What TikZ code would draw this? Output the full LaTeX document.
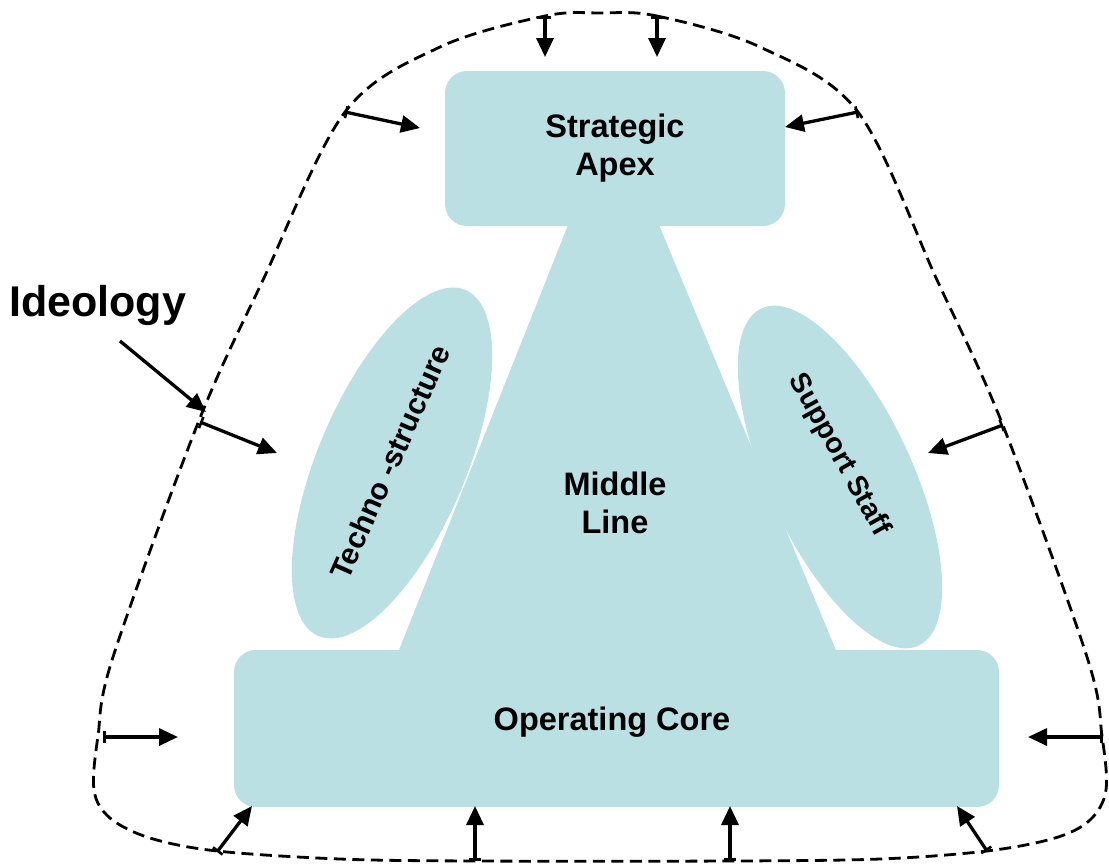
\documentclass[tikz,border=0pt]{standalone}
\usepackage{fontspec}
\setmainfont{Liberation Sans}
\usetikzlibrary{arrows.meta,shapes.geometric}
\definecolor{partfill}{RGB}{187,224,227}

\begin{document}
\begin{tikzpicture}[x=1pt,y=-1pt,
  partshape/.style={fill=partfill, draw=none},
  box/.style={partshape, rounded corners=22pt, inner sep=0pt},
  lbl/.style={font=\bfseries\fontsize{32.5}{38}\selectfont, align=center, text=black},
  rotlbl/.style={font=\bfseries\fontsize{30}{34}\selectfont, text=black},
  blob/.style={partshape, ellipse, inner sep=0pt},
  push/.style={line width=3.3pt, {Bar[width=12pt,line width=2.6pt]}-{Triangle[length=19pt,width=17pt]}},
  pointer/.style={line width=3.3pt, -{Triangle[length=19pt,width=17pt]}},
  boundary/.style={line width=2.8pt, dash pattern=on 12pt off 6.5pt}
]
\useasboundingbox (0,0) rectangle (1109,863);

% middle line: the trapezoid joining apex and core
\path[partshape] (570,220) -- (657,220) -- (838,655) -- (397,655) -- cycle;

% techno-structure and support staff
\node[blob, minimum width=376pt, minimum height=148pt, rotate=67] (ts) at (392,463) {};
\node[blob, minimum width=372pt, minimum height=144pt, rotate=-65] (ss) at (840,477) {};
\node[rotlbl, rotate=66] (tsl) at (390,462) {Techno -structure};
\node[rotlbl, font=\bfseries\fontsize{28.5}{34}\selectfont, rotate=-61] (ssl) at (839,455) {Support Staff};

% strategic apex and operating core
\node[box, minimum width=340pt, minimum height=155pt, lbl] (apex) at (615,148.5) {Strategic\\Apex};
\node[box, minimum width=765pt, minimum height=157pt] (core) at (616.5,728.5) {};
\node[lbl] (corel) at (612,722) {Operating Core};
\node[lbl] (mid) at (615,503) {Middle\\Line};

% ideology boundary
\draw[boundary] plot[smooth cycle, tension=0.55] coordinates {
  (600,13) (657,16) (760,47) (858,112) (937,280) (1002,423) (1087,657)
  (1102,736) (1106,790) (1090,820) (1055,838) (987,851) (880,859)
  (730,861) (475,861) (340,859) (217,851) (150,838) (110,818) (94,790)
  (98,736) (113,657) (198,423) (263,280) (345,112) (440,47) (545,16)};

\node[font=\bfseries\fontsize{43}{48}\selectfont, anchor=west, inner sep=0pt] (ideo) at (9,305) {Ideology};

% arrow ends on the boundary and inside it
\coordinate (b1) at (545,16);   \coordinate (e1) at (545,57);
\coordinate (b2) at (657,16);   \coordinate (e2) at (657,57);
\coordinate (b3) at (345,112);  \coordinate (e3) at (420,128);
\coordinate (b4) at (858,112);  \coordinate (e4) at (785,127);
\coordinate (b5) at (200,422);  \coordinate (e5) at (277,453);
\coordinate (b6) at (1003,425); \coordinate (e6) at (928,453);
\coordinate (b7) at (103,737);  \coordinate (e7) at (178,737);
\coordinate (b8) at (1103,737); \coordinate (e8) at (1028,737);
\coordinate (b9) at (217,852);  \coordinate (e9) at (252,806);
\coordinate (b10) at (987,851); \coordinate (e10) at (957,806);
\coordinate (b11) at (475,861); \coordinate (e11) at (475,806);
\coordinate (b12) at (730,861); \coordinate (e12) at (730,806);
\coordinate (is) at (120,341);  \coordinate (ie) at (206,412);

\foreach \i in {1,...,12} \draw[push] (b\i) -- (e\i);
\draw[pointer] (is) -- (ie);
\end{tikzpicture}
\end{document}
